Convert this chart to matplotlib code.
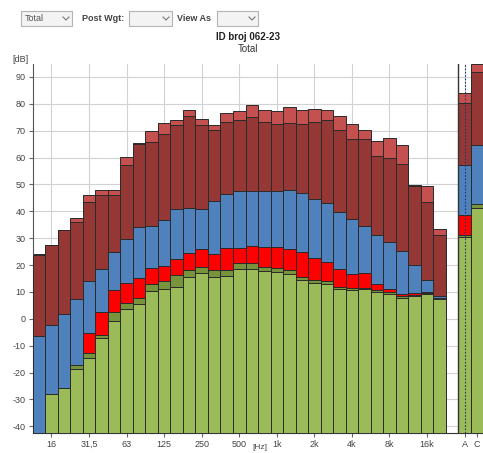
import numpy as np
import matplotlib
matplotlib.use("Agg")
import matplotlib.pyplot as plt
from matplotlib.patches import Rectangle
from matplotlib.lines import Line2D

# third-octave bands shown on the x axis
bands = ["12,5", "16", "20", "25", "31,5", "40", "50", "63", "80", "100", "125",
         "160", "200", "250", "315", "400", "500", "630", "800", "1k", "1,25k",
         "1,6k", "2k", "2,5k", "3,15k", "4k", "5k", "6,3k", "8k", "10k", "12,5k",
         "16k", "20k"]
tick_bands = ["16", "31,5", "63", "125", "250", "500", "1k", "2k", "4k", "8k", "16k"]
totals = ["A", "C"]

# levels per band [dB] (top layer first)
light_red = [24.0, 27.4, 33.1, 37.5, 45.9, 48.1, 48.1, 60.3, 65.3, 70.0, 72.9,
             74.1, 77.8, 74.3, 72.2, 76.6, 77.5, 79.4, 77.6, 77.3, 78.7,
             77.8, 78.2, 77.8, 75.6, 72.6, 70.4, 66.3, 67.4, 64.8, 49.9,
             49.5, 33.5]
dark_red = [23.8, 27.3, 33.0, 36.0, 43.3, 46.1, 46.1, 57.2, 64.9, 65.8, 68.9,
            72.0, 75.6, 72.2, 70.4, 73.2, 73.9, 75.1, 73.2, 72.5, 72.9,
            72.6, 73.4, 74.1, 70.1, 67.0, 67.0, 60.4, 59.9, 57.7, 49.5,
            43.5, 31.0]
blue = [-6.5, -2.3, 1.8, 7.5, 14.1, 18.4, 24.7, 29.6, 34.0, 34.7, 36.7,
        40.8, 41.1, 40.7, 43.8, 46.5, 47.6, 47.6, 47.4, 47.4, 48.1,
        46.9, 44.5, 43.0, 39.7, 37.2, 34.6, 31.0, 28.4, 25.3, 19.9,
        14.5, 8.3]
red = [-45.0, -28.1, -25.7, -17.3, -5.3, 2.4, 10.6, 13.5, 15.3, 18.9, 19.5,
       22.2, 24.4, 25.9, 24.0, 26.4, 26.5, 27.1, 26.8, 26.9, 25.9,
       24.7, 22.5, 21.3, 18.6, 16.7, 17.0, 12.9, 11.0, 9.3, 9.5,
       10.0, 7.9]
dark_green = [-45.0, -28.1, -25.7, -17.3, -12.9, -6.0, 2.7, 6.0, 7.9, 13.1, 14.0,
              16.3, 18.0, 19.4, 18.1, 18.0, 20.7, 20.6, 19.4, 18.9, 18.0,
              15.7, 14.5, 14.2, 12.0, 11.4, 11.6, 10.7, 9.9, 8.6, 8.8,
              9.7, 7.6]
light_green = [-45.0, -28.1, -25.7, -18.6, -14.5, -7.1, -0.7, 3.8, 5.5, 10.5, 11.0,
               12.0, 15.7, 17.0, 15.6, 16.0, 18.7, 18.7, 17.8, 17.3, 16.7,
               14.5, 13.2, 13.0, 11.0, 10.7, 11.0, 10.0, 9.1, 7.9, 8.5,
               9.4, 7.2]

# overall A and C weighted values, same layer order
tot_light_red = [84.2, 95.0]
tot_dark_red = [80.3, 91.9]
tot_blue = [57.1, 64.8]
tot_red = [38.7, 42.8]
tot_dark_green = [31.2, 42.8]
tot_light_green = [30.6, 41.2]

W, H = 483, 453
BOTTOM = -42.5

plt.rcParams["font.family"] = ["Liberation Sans", "DejaVu Sans"]
plt.rcParams["axes.unicode_minus"] = False
#the reference uses a plain hyphen for negative ticks
fig = plt.figure(figsize=(W / 100, H / 100), dpi=100)


def fx(x):
    # pixel x -> figure fraction
    return x / W


def fy(y):
    # pixel y (from top) -> figure fraction
    return 1 - y / H


# --- the little toolbar at the top ---
def combo(x0, x1, text=None):
    fig.add_artist(Rectangle((fx(x0), fy(26)), fx(x1) - fx(x0), fy(11) - fy(26),
                             transform=fig.transFigure, facecolor="#f3f3f3",
                             edgecolor="#b4b4b4", linewidth=0.8))
    cx = x1 - 6
    fig.add_artist(Line2D([fx(cx - 3), fx(cx), fx(cx + 3)], [fy(17), fy(20), fy(17)],
                          transform=fig.transFigure, color="#777777", linewidth=0.8))
    if text:
        fig.text(fx(x0 + 4), fy(18.5), text, fontsize=6.5, color="#555555",
                 ha="left", va="center")


combo(21, 72, "Total")
fig.text(fx(82), fy(18.5), "Post Wgt:", fontsize=6.5, fontweight="bold",
         color="#444444", ha="left", va="center")
combo(129, 172)
fig.text(fx(177), fy(18.5), "View As", fontsize=6.5, fontweight="bold",
         color="#444444", ha="left", va="center")
combo(217, 258)

# titles
fig.text(fx(248), fy(37), "ID broj 062-23", fontsize=7, fontweight="bold",
         color="#222222", ha="center", va="center")
fig.text(fx(248), fy(49), "Total", fontsize=7, color="#333333",
         ha="center", va="center")
fig.text(fx(12), fy(59.5), "[dB]", fontsize=6.5, color="#444444",
         ha="left", va="center")

# --- main chart ---
ax = fig.add_axes([fx(32.7), fy(433), fx(484) - fx(32.7), fy(63.5) - fy(433)])

x = np.arange(len(bands))
xt = np.array([len(bands) + 1, len(bands) + 2])

layers = [
    (light_red, tot_light_red, "#c4514f"),
    (dark_red, tot_dark_red, "#953735"),
    (blue, tot_blue, "#4f81bd"),
    (red, tot_red, "#ff0000"),
    (dark_green, tot_dark_green, "#77933c"),
    (light_green, tot_light_green, "#9bbb59"),
]
# each layer is a bar from the floor up, the higher ones drawn behind
for i, (vals, tvals, col) in enumerate(layers):
    vals = np.array(vals)
    tvals = np.array(tvals)
    ax.bar(x, vals - BOTTOM, bottom=BOTTOM, width=1.0, color=col,
           edgecolor="#2a2a2a", linewidth=0.7, zorder=2 + i)
    ax.bar(xt, tvals - BOTTOM, bottom=BOTTOM, width=1.0, color=col,
           edgecolor="#2a2a2a", linewidth=0.7, zorder=2 + i)

# ticks at the labelled bands plus A and C
tick_pos = [bands.index(b) for b in tick_bands] + list(xt)
ax.set_xticks(tick_pos)
ax.set_xticklabels(tick_bands + totals)
ax.set_yticks(np.arange(-40, 91, 10))
ax.set_xlim(-0.5, len(bands) + 2.55)
ax.set_ylim(BOTTOM, 95)

ax.grid(True, color="#d2d2d2", linewidth=0.8, zorder=0)
ax.set_axisbelow(True)
ax.tick_params(labelsize=6.5, labelcolor="#444444", color="#666666",
               length=3, pad=2)

for s in ["top", "right"]:
    ax.spines[s].set_visible(False)
ax.spines["left"].set_color("#555555")
ax.spines["bottom"].set_color("#333333")

# separator of the A/C panel and the cursor line on A
ax.axvline(len(bands) + 0.5, color="#333333", linewidth=1.0, zorder=9)
ax.axvline(xt[0], color="#1f3a6e", linewidth=0.8, linestyle=(0, (1.5, 1.5)), zorder=9)

fig.text(fx(260), fy(444), "[Hz]", fontsize=6, color="#444444",
         ha="center", va="top")

fig.savefig("out.png", dpi=100)
